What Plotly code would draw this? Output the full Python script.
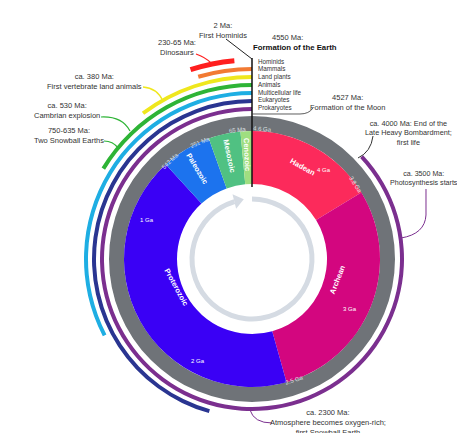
import math
import plotly.graph_objects as go

# ---------------- data ----------------
TOTAL_MA = 4600

eon_names = ["Hadean", "Archean", "Proterozoic", "Paleozoic", "Mesozoic", "Cenozoic"]
eon_start_ma = [4600, 3850, 2500, 541, 252, 66]
eon_end_ma = [3850, 2500, 541, 252, 66, 0]
eon_colors = ["#fc2a5b", "#d3067f", "#3a00f5", "#1c73ee", "#50c182", "#9fde80"]

life_names = ["Prokaryotes", "Eukaryotes", "Multicellular life", "Animals",
              "Land plants", "Mammals", "Hominids"]
life_start_ma = [4000, 2100, 1500, 750, 470, 210, 2]
life_colors = ["#7b2f8f", "#2a3591", "#1eaee3", "#2eb436", "#efe71d", "#f27a33", "#ff2020"]

dino_start_ma, dino_end_ma = 230, 65
dino_color = "#ff1e1e"

ring_tick_text = ["4.6 Ga", "3.8 Ga", "2.5 Ga", "542 Ma", "251 Ma", "65 Ma"]
ring_tick_ma = [4600, 3800, 2500, 542, 251, 65]
inner_tick_text = ["4 Ga", "3 Ga", "2 Ga", "1 Ga"]
inner_tick_ma = [4000, 3000, 2000, 1000]

# ---------------- geometry / style ----------------
PAGE_OFF = 8                      # default page margin around the plot div
W, H = 465 - PAGE_OFF, 433 - PAGE_OFF
CX, CY = 252 - PAGE_OFF, 259 - PAGE_OFF   # circle centre inside the figure
R_RANGE = 174                     # full-circle polar (bottom limited)
R_RANGE2 = 210                    # upper half polar for the outer arcs
R_HOLE, R_EON, R_GRAY = 75, 128, 143
LIFE_R0, LIFE_STEP, LIFE_W = 150, 8, 4
DINO_R, DINO_W = 199, 5
FONT = "Liberation Sans, Arial, sans-serif"
TXT = "#333333"


def th(ma):
    return (TOTAL_MA - ma) / TOTAL_MA * 360.0


def pol2paper(theta, r):
    t = math.radians(theta)
    x = CX + r * math.sin(t)
    y = CY - r * math.cos(t)
    return x / W, 1 - y / H


def pp(x, y):
    """reference-picture pixel -> paper coords"""
    return (x - PAGE_OFF) / W, 1 - (y - PAGE_OFF) / H


fig = go.Figure()

# gray time ring
fig.add_trace(go.Barpolar(r=[R_GRAY - R_EON], base=[R_EON], theta=[180], width=[360],
                          marker=dict(color="#6f7378", line=dict(width=0)),
                          hoverinfo="skip", showlegend=False, subplot="polar"))

# eons
for name, s, e, c in zip(eon_names, eon_start_ma, eon_end_ma, eon_colors):
    t0, t1 = th(s), th(e)
    fig.add_trace(go.Barpolar(r=[R_EON - R_HOLE], base=[R_HOLE], theta=[(t0 + t1) / 2],
                              width=[t1 - t0], marker=dict(color=c, line=dict(width=0)),
                              name=name, showlegend=False, subplot="polar"))

# life arcs (from first appearance to present)
for i, (name, s, c) in enumerate(zip(life_names, life_start_ma, life_colors)):
    if name == "Hominids":
        continue
    t0, t1 = th(s), 360.0
    rr = LIFE_R0 + LIFE_STEP * i
    sub = "polar2" if t0 >= 270 else "polar"
    fig.add_trace(go.Barpolar(r=[LIFE_W], base=[rr - LIFE_W / 2], theta=[(t0 + t1) / 2],
                              width=[t1 - t0], marker=dict(color=c, line=dict(width=0)),
                              name=name, showlegend=False, subplot=sub))

# dinosaurs
t0, t1 = th(dino_start_ma), th(dino_end_ma)
fig.add_trace(go.Barpolar(r=[DINO_W], base=[DINO_R - DINO_W / 2], theta=[(t0 + t1) / 2],
                          width=[t1 - t0], marker=dict(color=dino_color, line=dict(width=0)),
                          name="Dinosaurs", showlegend=False, subplot="polar2"))

# inner clock arrow
fig.add_trace(go.Barpolar(r=[5], base=[57.5], theta=[171.5], width=[343],
                          marker=dict(color="#d5dbe3", line=dict(width=0)),
                          hoverinfo="skip", showlegend=False, subplot="polar"))
fig.add_trace(go.Scatterpolar(r=[60], theta=[346], mode="markers",
                              marker=dict(symbol="triangle-right", size=13, color="#d5dbe3",
                                          angle=-14),
                              hoverinfo="skip", showlegend=False, subplot="polar"))

# present-day line
fig.add_trace(go.Scatterpolar(r=[72, 201], theta=[0, 0], mode="lines",
                              line=dict(color="#111111", width=1.5),
                              hoverinfo="skip", showlegend=False, subplot="polar2"))

common_axes = dict(
    bgcolor="rgba(0,0,0,0)",
    angularaxis=dict(rotation=90, direction="clockwise", visible=False),
    barmode="overlay",
)
fig.update_layout(
    width=W, height=H, margin=dict(l=0, r=0, t=0, b=0),
    paper_bgcolor="white", plot_bgcolor="white", template="none",
    polar=dict(
        domain=dict(x=[(CX - R_RANGE) / W, (CX + R_RANGE) / W],
                    y=[(H - CY - R_RANGE) / H, (H - CY + R_RANGE) / H]),
        radialaxis=dict(range=[0, R_RANGE], visible=False),
        **common_axes,
    ),
    polar2=dict(
        domain=dict(x=[(CX - R_RANGE2) / W, (CX + R_RANGE2) / W],
                    y=[(H - CY) / H, (H - CY + R_RANGE2) / H]),
        sector=[0, 180],
        radialaxis=dict(range=[0, R_RANGE2], visible=False),
        **common_axes,
    ),
    showlegend=False,
)

ann = []
# eon labels
for name, s, e in zip(eon_names, eon_start_ma, eon_end_ma):
    t0, t1 = th(s), th(e)
    tm = (t0 + t1) / 2
    if t1 - t0 < 30:
        ang = tm - 270
    elif 90 < tm < 270:
        ang = tm - 180
    else:
        ang = tm
    x, y = pol2paper(tm, 105)
    ann.append(dict(x=x, y=y, text="<b>%s</b>" % name, textangle=ang,
                    font=dict(family=FONT, size=7.5, color="white")))

# gray ring tick labels
ring_offsets = [4.5, -5.5, -2.5, -1.5, -2.5, -1.2]
for txt, ma, off in zip(ring_tick_text, ring_tick_ma, ring_offsets):
    t = th(ma) % 360 + off
    ang = t - 180 if 90 < t % 360 < 270 else (t if t < 180 else t - 360)
    x, y = pol2paper(t, 136)
    ann.append(dict(x=x, y=y, text=txt, textangle=ang,
                    font=dict(family=FONT, size=6, color="#dde0e3")))

# inner tick labels
inner_offsets = [-4.5, -8, 3.5, 7]
for txt, ma, off in zip(inner_tick_text, inner_tick_ma, inner_offsets):
    t = th(ma) + off
    x, y = pol2paper(t, 120)
    ann.append(dict(x=x, y=y, text=txt, textangle=0,
                    font=dict(family=FONT, size=6, color="white")))

# callouts (text, x, y in reference pixels, font size)
callouts = [
    ("2 Ma:<br>First Hominids", 223, 31, 7.5),
    ("230-65 Ma:<br>Dinosaurs", 177, 47.5, 7.5),
    ("4550 Ma:", 287, 38, 7.5),
    ("4527 Ma:<br>Formation of the Moon", 347, 102, 7.5),
    ("ca. 380 Ma:<br>First vertebrate land animals", 94, 81, 7.5),
    ("ca. 530 Ma:<br>Cambrian explosion", 67, 111, 7.5),
    ("750-635 Ma:<br>Two Snowball Earths", 69, 136, 7.5),
    ("ca. 4000 Ma: End of the<br>Late Heavy Bombardment;<br>first life", 408, 133, 7.3),
    ("ca. 3500 Ma:<br>Photosynthesis starts", 424, 178, 7.1),
    ("ca. 2300 Ma:<br>Atmosphere becomes oxygen-rich;<br>first Snowball Earth", 328, 422, 7.5),
]
for txt, x, y, fs in callouts:
    px_, py_ = pp(x, y)
    ann.append(dict(x=px_, y=py_, text=txt, align="center", xanchor="center",
                    yanchor="middle", font=dict(family=FONT, size=fs, color=TXT)))

px_, py_ = pp(251, 47)
ann.append(dict(x=px_, y=py_, text="<b>Formation of the Earth</b>", xanchor="left",
                yanchor="middle", font=dict(family=FONT, size=7.8, color="#111111")))

# life legend list next to the line
for i, name in enumerate(reversed(life_names)):
    px_, py_ = pp(256, 61 + i * 7.85)
    ann.append(dict(x=px_, y=py_, text=name, xanchor="left", yanchor="middle",
                    font=dict(family=FONT, size=6.3, color=TXT)))

for a in ann:
    a.setdefault("showarrow", False)
    a.setdefault("xref", "paper")
    a.setdefault("yref", "paper")
fig.update_layout(annotations=ann)


# leader lines
def path(cmds):
    out = []
    for c in cmds:
        if isinstance(c, str):
            out.append(c)
        else:
            x, y = pp(*c)
            out.append("%.5f,%.5f" % (x, y))
    return " ".join(out)


leaders = [
    (["M", (226, 39), "L", (252, 59)], "#222222", 1),
    (["M", (196, 54), "Q", (205, 57), (211, 63)], "#ff1e1e", 1.3),
    (["M", (143, 87), "Q", (157, 88), (163, 101)], "#efe71d", 1.3),
    (["M", (101, 117), "Q", (122, 116), (130, 131)], "#2eb436", 1.2),
    (["M", (104, 141), "Q", (113, 141), (118, 148)], "#2eb436", 1.2),
    (["M", (373, 136), "Q", (371, 152), (358, 158)], "#333333", 1),
    (["M", (426, 189), "L", (426, 215), "Q", (425, 234), (401, 238)], "#7b2f8f", 1),
    (["M", (272, 423), "Q", (254, 423), (250, 410)], "#7b2f8f", 1),
    (["M", (252, 114), "L", (300, 114), "Q", (309, 114), (313, 108)], "#333333", 0.8),
]
for cmds, col, w in leaders:
    fig.add_shape(type="path", xref="paper", yref="paper", path=path(cmds),
                  line=dict(color=col, width=w))

fig.write_html("out.html")
